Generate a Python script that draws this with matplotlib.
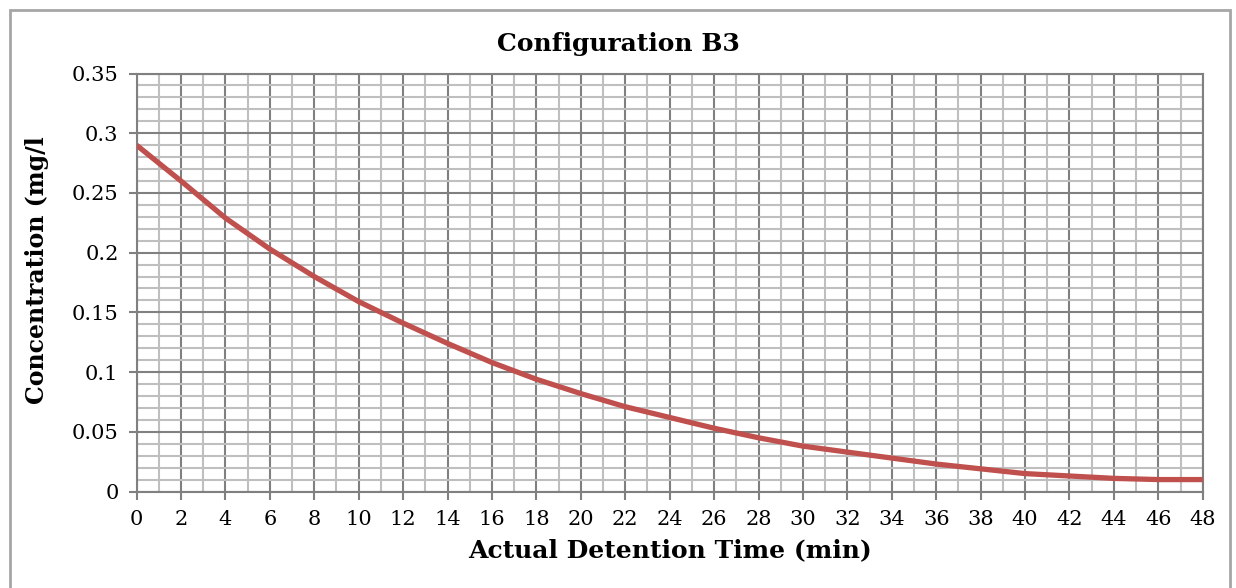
import matplotlib
matplotlib.use("Agg")
import matplotlib.pyplot as plt
from matplotlib.patches import Rectangle
from matplotlib.ticker import MultipleLocator
import numpy as np

# detention time (min) and residual concentration (mg/l)
time_min = [0, 2, 4, 6, 8, 10, 12, 14, 16, 18, 20, 22, 24,
            26, 28, 30, 32, 34, 36, 38, 40, 42, 44, 46, 48]
conc = [0.290, 0.260, 0.229, 0.203, 0.180, 0.159, 0.141, 0.124, 0.108,
        0.094, 0.082, 0.071, 0.062, 0.053, 0.045, 0.038, 0.033, 0.028,
        0.023, 0.019, 0.015, 0.013, 0.011, 0.010, 0.010]

plt.rcParams['font.family'] = ['DejaVu Serif']

fig = plt.figure(figsize=(12.36, 5.88), dpi=100)
ax = fig.add_axes([0.1105, 0.1641, 0.8626, 0.7109])

# outer chart border
fig.patches.append(Rectangle((10 / 1236, -0.01), 1220 / 1236, 1 - 10 / 588 + 0.01,
                             transform=fig.transFigure, fill=False,
                             edgecolor='#a6a6a6', linewidth=2))

ax.plot(time_min, conc, color='#c0504d', linewidth=3.8, zorder=3,
        solid_capstyle='butt')

ax.set_xlim(0, 48)
ax.set_ylim(0, 0.35)
ax.xaxis.set_major_locator(MultipleLocator(2))
ax.xaxis.set_minor_locator(MultipleLocator(1))
ax.yaxis.set_minor_locator(MultipleLocator(0.01))
ax.set_yticks(np.arange(0, 0.351, 0.05))
ax.set_yticklabels(['0', '0.05', '0.1', '0.15', '0.2', '0.25', '0.3', '0.35'])

ax.grid(which='major', color='#808080', linewidth=1.5)
ax.grid(which='minor', color='#bfbfbf', linewidth=1.5)
ax.set_axisbelow(True)

for s in ax.spines.values():
    s.set_color('#808080')
    s.set_linewidth(1.5)

ax.tick_params(which='major', length=6, width=1.5, color='#808080',
               labelsize=15, pad=7)
ax.tick_params(which='minor', length=0)

fig.text(0.5, 1 - 44 / 588, 'Configuration B3', ha='center', va='center',
         fontsize=18, fontweight='bold')
ax.set_xlabel('Actual Detention Time (min)', fontsize=18, fontweight='bold',
              labelpad=7)
fig.text(37 / 1236, 1 - 270 / 588, 'Concentration (mg/l', rotation=90,
         ha='center', va='center', fontsize=17, fontweight='bold')

fig.savefig('out.png', dpi=100)
